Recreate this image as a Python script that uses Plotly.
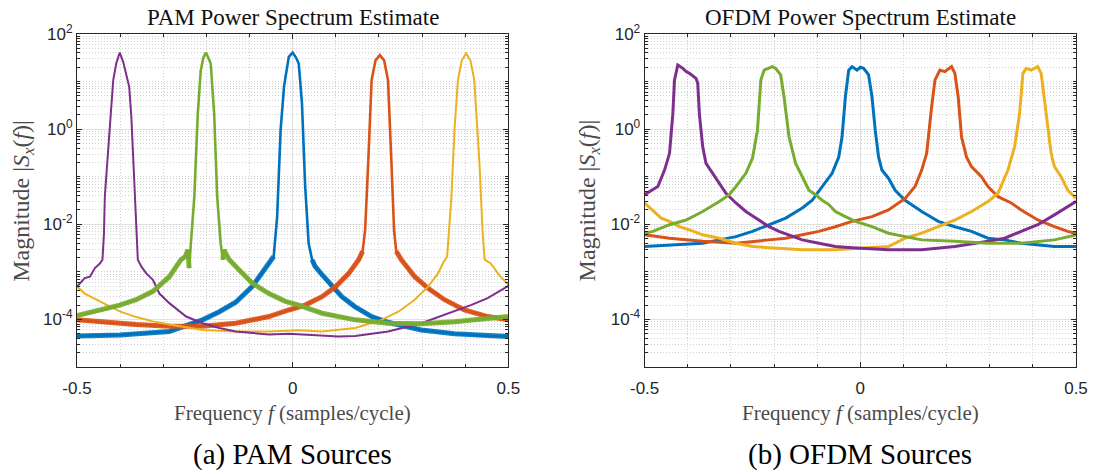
import plotly.graph_objects as go

# ---------------- PAM panel data (frequency, magnitude) ----------------
pam_blue_f = [-0.5, -0.4, -0.286, -0.209, -0.17, -0.132, -0.094, -0.071, -0.055, -0.044, -0.036, -0.028,
              -0.02, -0.009, 0.0, 0.008, 0.014, 0.0215, 0.029, 0.037, 0.045, 0.052, 0.068, 0.091, 0.114,
              0.144, 0.183, 0.221, 0.298, 0.375, 0.452, 0.5]
pam_blue_m = [4.5e-5, 4.7e-5, 5.6e-5, 9.8e-5, 1.45e-4, 2.3e-4, 4.9e-4, 9.3e-4, 1.5e-3, 2.1e-3, 1.45e-2, 0.95,
              8.0, 33, 40.7, 31.6, 24, 3.5, 6.2e-2, 4.0e-3, 1.8e-3, 1.3e-3, 8.7e-4, 4.9e-4, 3.0e-4,
              1.86e-4, 1.15e-4, 8.7e-5, 6.0e-5, 5.0e-5, 4.5e-5, 4.4e-5]

pam_red_f = [-0.5, -0.44, -0.363, -0.286, -0.209, -0.132, -0.055, -0.009, 0.029, 0.068, 0.1, 0.13, 0.153,
             0.162, 0.168, 0.175, 0.183, 0.192, 0.202, 0.212, 0.221, 0.229, 0.235, 0.24, 0.252, 0.283,
             0.314, 0.352, 0.398, 0.452, 0.5]
pam_red_m = [9.8e-5, 8.7e-5, 7.8e-5, 7.2e-5, 7.2e-5, 8.3e-5, 1.15e-4, 1.58e-4, 2.0e-4, 3.0e-4, 4.9e-4, 9.3e-4,
             1.8e-3, 2.7e-3, 7.6e-3, 0.19, 10.7, 28, 36, 28, 10.7, 0.19, 7.6e-3, 2.7e-3, 1.8e-3, 7.9e-4,
             4.5e-4, 2.6e-4, 1.58e-4, 1.15e-4, 9.8e-5]

pam_yellow_f = [-0.5, -0.482, -0.439, -0.401, -0.3625, -0.324, -0.286, -0.247, -0.209, -0.132, -0.055, 0.014,
                0.068, 0.145, 0.206, 0.245, 0.283, 0.314, 0.337, 0.348, 0.358, 0.368, 0.375, 0.383, 0.392,
                0.402, 0.412, 0.421, 0.433, 0.44, 0.445, 0.459, 0.482, 0.5]
pam_yellow_m = [4.9e-4, 3.5e-4, 2.2e-4, 1.48e-4, 1.12e-4, 9.1e-5, 7.8e-5, 6.8e-5, 6.0e-5, 5.6e-5, 5.6e-5, 5.9e-5,
                5.6e-5, 6.6e-5, 9.8e-5, 1.45e-4, 2.6e-4, 4.9e-4, 9.3e-4, 1.5e-3, 2.1e-3, 3.8e-2, 0.95, 10.7, 28,
                39, 28, 10.7, 0.19, 7.6e-3, 1.8e-3, 1.5e-3, 7.9e-4, 5.4e-4]

pam_purple_f = [-0.5, -0.482, -0.47, -0.4585, -0.447, -0.441, -0.4375, -0.4355, -0.43, -0.42, -0.416, -0.409,
                -0.401, -0.393, -0.384, -0.379, -0.374, -0.366, -0.359, -0.351, -0.3395, -0.324, -0.309,
                -0.286, -0.247, -0.209, -0.17, -0.132, -0.055, -0.009, 0.068, 0.106, 0.145, 0.221, 0.298,
                0.337, 0.375, 0.413, 0.452, 0.5]
pam_purple_m = [4.9e-4, 7.4e-4, 7.9e-4, 1.2e-3, 1.5e-3, 1.8e-3, 6.3e-3, 3.8e-2, 0.19, 4.8, 10.7, 24,
                40.7, 26, 12.6, 7.8, 1.8, 3.8e-2, 1.8e-3, 1.3e-3, 9.3e-4, 6.8e-4, 3.5e-4,
                2.2e-4, 1.15e-4, 8.3e-5, 6.6e-5, 5.6e-5, 4.8e-5, 5.0e-5, 4.5e-5, 4.4e-5, 4.5e-5, 5.6e-5, 8.3e-5,
                1.12e-4, 1.48e-4, 2.0e-4, 2.8e-4, 5.1e-4]

pam_green_f = [-0.5, -0.44, -0.401, -0.363, -0.324, -0.286, -0.259, -0.249, -0.243, -0.24, -0.236, -0.228,
               -0.22, -0.213, -0.207, -0.201, -0.19, -0.182, -0.175, -0.167, -0.162, -0.159, -0.155, -0.147,
               -0.124, -0.094, -0.055, -0.017, 0.014, 0.068, 0.145, 0.221, 0.298, 0.375, 0.5]
pam_green_m = [1.2e-4, 1.58e-4, 2.0e-4, 2.6e-4, 3.9e-4, 7.9e-4, 1.8e-3, 2.1e-3, 2.9e-3, 1.2e-3, 4.0e-3, 3.8e-2,
               2.1, 17.4, 31.6, 40.7, 24, 2.1, 3.8e-2, 4.0e-3, 1.8e-3, 2.9e-3, 2.4e-3, 1.8e-3,
               1.1e-3, 5.8e-4, 3.5e-4, 2.4e-4, 2.0e-4, 1.35e-4, 9.8e-5, 8.3e-5, 8.1e-5, 8.9e-5, 1.15e-4]

# ---------------- OFDM panel data (frequency, magnitude) ----------------
ofdm_blue_f = [-0.5, -0.4423, -0.3654, -0.3269, -0.2884, -0.25, -0.2115, -0.173, -0.1345, -0.1115, -0.0884,
               -0.0654, -0.05, -0.0423, -0.0346, -0.0269, -0.0192, -0.0077, 0.0, 0.0077, 0.0192, 0.027, 0.0346,
               0.0423, 0.05, 0.0653, 0.0807, 0.1038, 0.1423, 0.1807, 0.2192, 0.2577, 0.296, 0.3346, 0.373,
               0.4114, 0.45, 0.5]
ofdm_blue_m = [3.4e-3, 3.7e-3, 4.0e-3, 4.7e-3, 5.5e-3, 7.1e-3, 9.8e-3, 1.35e-2, 2.2e-2, 3.2e-2, 6.2e-2,
               0.118, 0.26, 0.69, 4.8, 17.4, 20.6, 17.4, 20.0, 19, 13.8, 4.8, 0.95,
               0.26, 0.138, 9.3e-2, 5.2e-2, 3.2e-2, 1.86e-2, 1.15e-2, 8.9e-3, 7.1e-3, 5.1e-3, 4.7e-3, 4.0e-3,
               3.7e-3, 3.4e-3, 3.4e-3]

ofdm_red_f = [-0.5, -0.4423, -0.3654, -0.2884, -0.2115, -0.173, -0.1345, -0.0962, -0.0577, -0.0192, 0.027,
              0.0653, 0.1038, 0.1269, 0.1423, 0.1538, 0.1653, 0.173, 0.1845, 0.196, 0.2115, 0.2192, 0.2269,
              0.2346, 0.2461, 0.2577, 0.2807, 0.296, 0.3192, 0.35, 0.373, 0.4114, 0.45, 0.4808, 0.5]
ofdm_red_m = [6.0e-3, 5.1e-3, 4.4e-3, 4.0e-3, 4.7e-3, 5.1e-3, 6.0e-3, 7.1e-3, 8.9e-3, 1.15e-2, 1.45e-2,
              2.0e-2, 3.5e-2, 6.2e-2, 0.138, 0.31, 2.95, 10.7, 17.4, 16.2, 20.6, 14.9, 4.8,
              0.69, 0.26, 0.163, 0.1, 6.2e-2, 3.8e-2, 2.8e-2, 2.0e-2, 1.23e-2, 8.9e-3, 7.1e-3, 6.5e-3]

ofdm_yellow_f = [-0.5, -0.481, -0.4615, -0.4423, -0.4192, -0.3962, -0.3654, -0.3269, -0.2884, -0.25, -0.2115,
                 -0.1345, -0.0577, 0.0115, 0.0653, 0.1038, 0.1423, 0.1807, 0.2192, 0.2577, 0.296, 0.3192,
                 0.3423, 0.3577, 0.3692, 0.3769, 0.3846, 0.3961, 0.4114, 0.4192, 0.4307, 0.4423, 0.45,
                 0.4654, 0.4808, 0.5]
ofdm_yellow_m = [2.8e-2, 2.0e-2, 1.35e-2, 1.15e-2, 8.9e-3, 7.6e-3, 6.0e-3, 5.1e-3, 4.0e-3, 3.4e-3, 3.2e-3,
                 2.9e-3, 2.9e-3, 3.2e-3, 3.4e-3, 5.1e-3, 6.5e-3, 8.9e-3, 1.23e-2, 1.86e-2, 3.0e-2, 4.5e-2,
                 0.138, 0.43, 2.1, 14.9, 19, 17.4, 20.6, 14.9, 2.1, 0.31, 0.163,
                 0.1, 5.2e-2, 3.5e-2]

ofdm_purple_f = [-0.5, -0.4695, -0.4538, -0.4423, -0.4346, -0.4308, -0.4231, -0.4115, -0.4038, -0.3962,
                 -0.3808, -0.3769, -0.3731, -0.3654, -0.3577, -0.3423, -0.3269, -0.3115, -0.2884, -0.2653,
                 -0.2423, -0.2115, -0.1884, -0.1576, -0.1345, -0.0962, -0.0577, -0.0192, 0.0653, 0.1423,
                 0.2192, 0.296, 0.3346, 0.373, 0.4114, 0.45, 0.4808, 0.5]
ofdm_purple_m = [4.2e-2, 6.2e-2, 0.138, 0.31, 2.1, 10.7, 22.4, 19, 16.2, 14.9,
                 11.7, 9.2, 2.1, 0.43, 0.19, 0.118, 7.2e-2, 4.5e-2, 2.8e-2, 1.86e-2,
                 1.35e-2, 8.9e-3, 7.1e-3, 5.5e-3, 4.7e-3, 4.0e-3, 3.4e-3, 3.2e-3, 2.9e-3, 2.9e-3,
                 3.4e-3, 4.4e-3, 5.1e-3, 7.1e-3, 9.8e-3, 1.58e-2, 2.3e-2, 3.0e-2]

ofdm_green_f = [-0.5, -0.481, -0.4423, -0.4038, -0.3654, -0.3269, -0.3038, -0.2884, -0.2653, -0.25, -0.2384,
                -0.2307, -0.223, -0.2115, -0.2038, -0.1961, -0.1846, -0.1769, -0.1653, -0.1576, -0.15,
                -0.1345, -0.1192, -0.1038, -0.0884, -0.073, -0.0577, -0.0346, -0.0115, 0.027, 0.0653,
                0.1038, 0.1423, 0.2192, 0.296, 0.373, 0.45, 0.5]
ofdm_green_m = [6.5e-3, 7.1e-3, 9.8e-3, 1.23e-2, 1.86e-2, 3.0e-2, 4.2e-2, 6.2e-2, 0.118, 0.245, 0.95,
                10.7, 17.4, 19, 20.6, 19, 13.8, 4.8, 0.69, 0.36, 0.19,
                0.1, 5.2e-2, 4.2e-2, 3.2e-2, 2.6e-2, 1.86e-2, 1.45e-2, 1.15e-2, 8.9e-3, 6.5e-3,
                5.5e-3, 4.7e-3, 4.4e-3, 4.0e-3, 4.0e-3, 4.7e-3, 6.0e-3]

# ---------------- text ----------------
titles = ["PAM Power Spectrum Estimate", "OFDM Power Spectrum Estimate"]
captions = ["(a) PAM Sources", "(b) OFDM Sources"]
x_label = "Frequency <i>f</i> (samples/cycle)"
y_label = "Magnitude |<i>S<sub>x</sub></i>(<i>f</i>)|"
x_tick_vals = [-0.5, 0, 0.5]
x_tick_text = ["-0.5", "0", "0.5"]
y_tick_vals = [1e-4, 1e-2, 1e0, 1e2]
y_tick_text = ["10<sup>-4</sup>", "10<sup>-2</sup>", "10<sup>0</sup>", "10<sup>2</sup>"]

BLUE, RED, YELLOW, PURPLE, GREEN = "#0072BD", "#D95319", "#EDB120", "#7E2F8E", "#77AC30"

fig = go.Figure()


def add_line(f, m, color, xa, ya, width, thick=None):
    fig.add_trace(go.Scatter(x=f, y=m, mode="lines", xaxis=xa, yaxis=ya,
                             line=dict(color=color, width=width), showlegend=False, hoverinfo="skip"))
    if thick:
        tail = [v if v < 3.5e-3 else None for v in m]
        fig.add_trace(go.Scatter(x=f, y=tail, mode="lines", xaxis=xa, yaxis=ya, connectgaps=False,
                                 line=dict(color=color, width=thick), opacity=0.9,
                                 showlegend=False, hoverinfo="skip"))


# PAM (MATLAB colour order: blue, red, yellow, purple, green)
add_line(pam_blue_f, pam_blue_m, BLUE, "x", "y", 2.6, thick=5)
add_line(pam_red_f, pam_red_m, RED, "x", "y", 2.6, thick=5)
add_line(pam_yellow_f, pam_yellow_m, YELLOW, "x", "y", 2.0)
add_line(pam_purple_f, pam_purple_m, PURPLE, "x", "y", 2.0)
add_line(pam_green_f, pam_green_m, GREEN, "x", "y", 2.6, thick=5)

# OFDM
add_line(ofdm_blue_f, ofdm_blue_m, BLUE, "x2", "y2", 3.0)
add_line(ofdm_red_f, ofdm_red_m, RED, "x2", "y2", 3.0)
add_line(ofdm_yellow_f, ofdm_yellow_m, YELLOW, "x2", "y2", 3.0)
add_line(ofdm_purple_f, ofdm_purple_m, PURPLE, "x2", "y2", 3.0)
add_line(ofdm_green_f, ofdm_green_m, GREEN, "x2", "y2", 3.0)

AX = "#262626"
tickfont = dict(family="Liberation Sans, Arial, sans-serif", size=17, color=AX)
minor_y = [k * 10.0 ** e for e in range(-5, 2) for k in range(1, 10)
           if not (k == 1 and e in (-4, -2, 0))]

xcommon = dict(range=[-0.5, 0.5], tickvals=x_tick_vals, ticktext=x_tick_text, ticks="inside", ticklen=5,
               tickwidth=1, tickcolor=AX, showline=True, linecolor=AX, linewidth=1, mirror="ticks",
               showgrid=True, gridcolor="#e0e0e0", gridwidth=1, zeroline=False, tickfont=tickfont,
               ticklabelstandoff=6,
               minor=dict(dtick=0.1, tick0=0, ticks="inside", ticklen=3, tickcolor=AX, showgrid=True,
                          gridcolor="#d2d2d2", griddash="1px,2px", gridwidth=1),
               fixedrange=True)
ycommon = dict(type="log", range=[-5, 2], tickvals=y_tick_vals, ticktext=y_tick_text, ticks="inside",
               ticklen=5, tickwidth=1, tickcolor=AX, showline=True, linecolor=AX, linewidth=1, mirror="ticks",
               showgrid=True, gridcolor="#e0e0e0", gridwidth=1, zeroline=False, tickfont=tickfont,
               minor=dict(tickvals=minor_y, ticks="inside", ticklen=3, tickcolor=AX, showgrid=True,
                          gridcolor="#d2d2d2", griddash="1px,2px", gridwidth=1),
               fixedrange=True)

fig.update_layout(
    width=1100, height=474, autosize=False,
    margin=dict(l=77, r=18, t=34, b=107),
    paper_bgcolor="white", plot_bgcolor="white",
    xaxis=dict(domain=[0, 0.4318], anchor="y", **xcommon),
    yaxis=dict(domain=[0, 1], anchor="x", **ycommon),
    xaxis2=dict(domain=[0.5682, 1], anchor="y2", **xcommon),
    yaxis2=dict(domain=[0, 1], anchor="x2", **ycommon),
)

serif = "Liberation Serif, Times New Roman, serif"
annos = []
for cx, ylab_x, t, c in [(0.2159, -0.0547, titles[0], captions[0]), (0.7841, 0.5124, titles[1], captions[1])]:
    annos.append(dict(text=t, x=cx, y=1.051, xref="paper", yref="paper", showarrow=False,
                      xanchor="center", yanchor="middle", font=dict(family=serif, size=23, color="#111111")))
    annos.append(dict(text=x_label, x=cx, y=-0.138, xref="paper", yref="paper", showarrow=False,
                      xanchor="center", yanchor="middle", font=dict(family=serif, size=21, color="#4a4a4a")))
    annos.append(dict(text=c, x=cx, y=-0.262, xref="paper", yref="paper", showarrow=False,
                      xanchor="center", yanchor="middle", font=dict(family=serif, size=29, color="#000000")))
    annos.append(dict(text=y_label, x=ylab_x, y=0.5, xref="paper", yref="paper", showarrow=False,
                      textangle=-90, xanchor="center", yanchor="middle",
                      font=dict(family=serif, size=24, color="#4a4a4a")))
fig.update_layout(annotations=annos)

fig.write_html("out.html")
